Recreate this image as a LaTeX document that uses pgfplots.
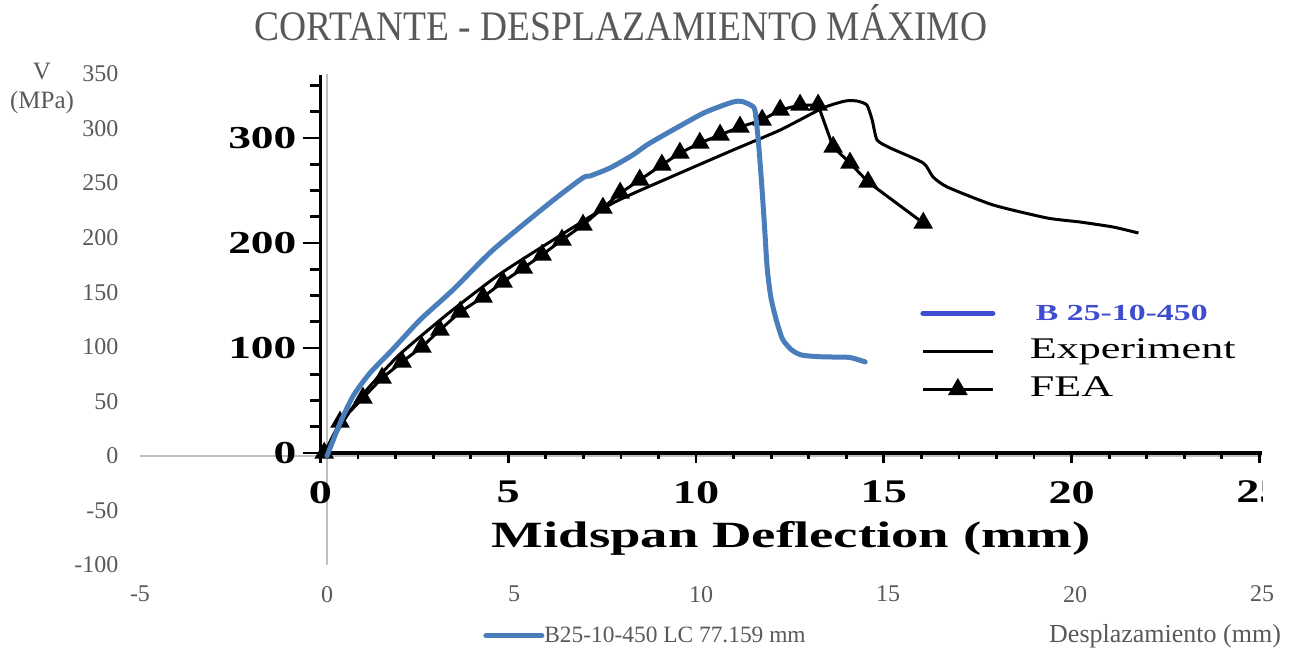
\documentclass[border=0pt]{standalone}
\usepackage{pgfplots}
\pgfplotsset{compat=1.18}
\usepackage{fontspec}
\setmainfont{Liberation Serif}
\definecolor{exgray}{RGB}{89,89,89}
\definecolor{exblue}{RGB}{74,126,187}
\definecolor{legblue}{RGB}{62,77,208}
\definecolor{axgray}{RGB}{191,191,191}
\newcommand{\fs}[1]{\fontsize{#1pt}{#1pt}\selectfont}
\begin{document}
\begin{tikzpicture}
\path[use as bounding box] (0,0) rectangle (649pt,326.5pt);
% ---------------- outer (Excel) axis: labels and grey axis lines
\begin{axis}[
  at={(70pt,44pt)}, anchor=south west,
  width=561pt, height=245.5pt, scale only axis,
  xmin=-5, xmax=25, ymin=-100, ymax=350,
  xtick={-5,0,...,25}, ytick={-100,-50,...,350},
  axis line style={draw=none},
  major tick length=0pt,
  /pgf/number format/assume math mode=true,
  tick label style={font=\fs{12}, text=exgray},
  xticklabel style={yshift=-7pt},
  yticklabel style={xshift=-7.3pt},
  clip=false,
]
\draw[axgray, line width=0.8pt] (axis cs:-5,0) -- (axis cs:25,0);
\draw[axgray, line width=0.8pt] (axis cs:0,-100) -- (axis cs:0,350);
\end{axis}
% ---------------- inner picture: y axis, curves and legend
\begin{axis}[
  at={(160.25pt,100pt)}, anchor=south west,
  width=470.75pt, height=189pt, scale only axis,
  xmin=0, xmax=25.07, ymin=0, ymax=360,
  axis x line=none, axis y line*=left,
  axis line style={line width=1.75pt, black},
  ytick={0,100,200,300}, minor ytick={25,50,75,125,150,175,225,250,275,325,350},
  xtick=\empty,
  tick align=outside,
  major tick length=8.5pt, minor tick length=5pt,
  every tick/.style={black, line width=1.4pt},
  /pgf/number format/assume math mode=true,
  yticklabel style={font=\fs{16}\bfseries},
  yticklabel={\scalebox{1.42}[1]{\pgfmathprintnumber{\tick}}},
  clip=false,
  legend style={at={(0.6367,0.4048)}, anchor=north west, draw=none, fill=none,
    inner sep=0pt, row sep=6pt,
    nodes={inner sep=0pt, anchor=west, text height=10pt, text depth=3pt}},
  legend cell align=left,
  legend image code/.code={\path[draw=none, fill=none] (0pt,-1pt) rectangle (53.5pt,1pt);\draw[mark repeat=2,mark phase=2,#1] plot coordinates {(0pt,0pt) (17.5pt,0pt) (35pt,0pt)};},
]
\addlegendimage{legblue, line width=2.5pt, line cap=round}
\addlegendentry{{\fs{11.5}\bfseries\color{legblue}\hspace{3pt}\scalebox{1.47}[1]{B 25-10-450}}}
\addplot[black, line width=1.5pt, smooth, tension=0.35, line join=round] table[row sep=\\] {
x y \\
0.10 0 \\
0.47 21.9 \\
0.84 42.9 \\
1.32 63.8 \\
2.12 94.3 \\
3.45 134.3 \\
4.78 170.5 \\
6.11 201.0 \\
7.79 238.1 \\
9.39 263.8 \\
10.99 288.6 \\
12.24 307.6 \\
13.38 328.6 \\
13.97 335.2 \\
14.29 335.2 \\
14.55 331.4 \\
14.69 317.1 \\
14.82 298.1 \\
15.17 290.5 \\
16.05 276.2 \\
16.31 262.9 \\
16.69 253.3 \\
17.91 236.2 \\
19.35 223.8 \\
20.22 220.0 \\
21.11 215.2 \\
21.78 209.5 \\
};
\addlegendentry{{\fs{15}\scalebox{1.47}[1]{Experiment}}}
\addplot[black, line width=1.5pt, mark=triangle*, mark size=4.2pt, mark options={solid}] table[row sep=\\] {
x y \\
0.10 0 \\
0.52 29.5 \\
1.13 52.4 \\
1.64 71.4 \\
2.17 86.7 \\
2.70 101.0 \\
3.18 117.1 \\
3.72 134.3 \\
4.33 148.6 \\
4.86 162.9 \\
5.40 176.2 \\
5.90 188.6 \\
6.43 202.9 \\
6.99 217.1 \\
7.52 233.3 \\
7.98 247.6 \\
8.50 260.0 \\
9.09 274.3 \\
9.57 285.7 \\
10.10 295.2 \\
10.64 302.9 \\
11.17 310.5 \\
11.76 317.1 \\
12.24 326.7 \\
12.77 331.4 \\
13.25 331.4 \\
13.65 291.4 \\
14.10 276.2 \\
14.58 258.1 \\
16.05 219.0 \\
};
\addlegendentry{{\fs{15}\scalebox{1.47}[1]{FEA}}}
\end{axis}
% ---------------- inner picture: x axis (cropped at the right edge)
\begin{scope}
\clip (0,0) rectangle (631pt,326.5pt);
\begin{axis}[
  at={(160.25pt,100pt)}, anchor=south west,
  width=470.75pt, height=189pt, scale only axis,
  xmin=0, xmax=25.07, ymin=0, ymax=360,
  axis y line=none, axis x line*=bottom,
  axis line style={line width=1.75pt, black},
  xtick={0,5,...,25}, minor xtick={1,2,3,4,6,7,8,9,11,12,13,14,16,17,18,19,21,22,23,24},
  ytick=\empty,
  tick align=outside,
  major tick length=5pt, minor tick length=3pt,
  every tick/.style={black, line width=1.4pt},
  /pgf/number format/assume math mode=true,
  xticklabel style={font=\fs{16.5}\bfseries, yshift=-5.5pt},
  xticklabel={\scalebox{1.4}[1]{\pgfmathprintnumber{\tick}}},
  xlabel={\scalebox{1.48}[1]{Midspan Deflection (mm)}},
  xlabel style={font=\fs{18.5}\bfseries, yshift=-2pt},
  clip=false,
]
\end{axis}
\end{scope}
% ---------------- outer series (drawn on top) and its legend
\begin{axis}[
  at={(70pt,44pt)}, anchor=south west,
  width=561pt, height=245.5pt, scale only axis,
  xmin=-5, xmax=25, ymin=-100, ymax=350,
  hide axis, clip=false,
  legend style={at={(0.3057,-0.1446)}, anchor=west, draw=none, fill=none,
    inner sep=0pt, nodes={inner sep=0pt, font=\fs{11.7}, text=exgray}},
  legend image code/.code={\draw[#1] (0pt,0pt) -- (28pt,0pt);},
]
\addplot[exblue, line width=2.5pt, smooth, tension=0.4, line cap=round, line join=round] table[row sep=\\] {
x y \\
0 0 \\
0.35 30 \\
0.70 55 \\
1.15 76 \\
1.74 97 \\
2.49 124.7 \\
3.37 152.2 \\
4.44 188.8 \\
5.96 231.9 \\
6.84 254.8 \\
7.03 256.5 \\
7.57 263.9 \\
8.18 275.8 \\
8.64 286.8 \\
9.97 312.5 \\
10.45 319.5 \\
10.86 324.4 \\
11.08 325 \\
11.32 321.6 \\
11.44 317 \\
11.53 290 \\
11.61 255 \\
11.69 215 \\
11.77 172 \\
11.87 145 \\
12.01 125 \\
12.18 107 \\
12.42 97.2 \\
12.68 92.5 \\
13.10 91 \\
13.53 90.6 \\
13.98 90.2 \\
14.39 86.1 \\
};
\addlegendentry{B25-10-450 LC 77.159 mm}
\end{axis}
% ---------------- titles
\node[text=exgray, font=\fs{18.75}] at (310.5pt,315pt) {\scalebox{1}[1.12]{CORTANTE - DESPLAZAMIENTO MÁXIMO}};
\node[text=exgray, font=\fs{12.5}, align=center] at (21pt,282.5pt) {V\\[2pt](MPa)};
\node[text=exgray, font=\fs{13}, anchor=east] at (644pt,8.5pt) {Desplazamiento (mm)};
\end{tikzpicture}
\end{document}
